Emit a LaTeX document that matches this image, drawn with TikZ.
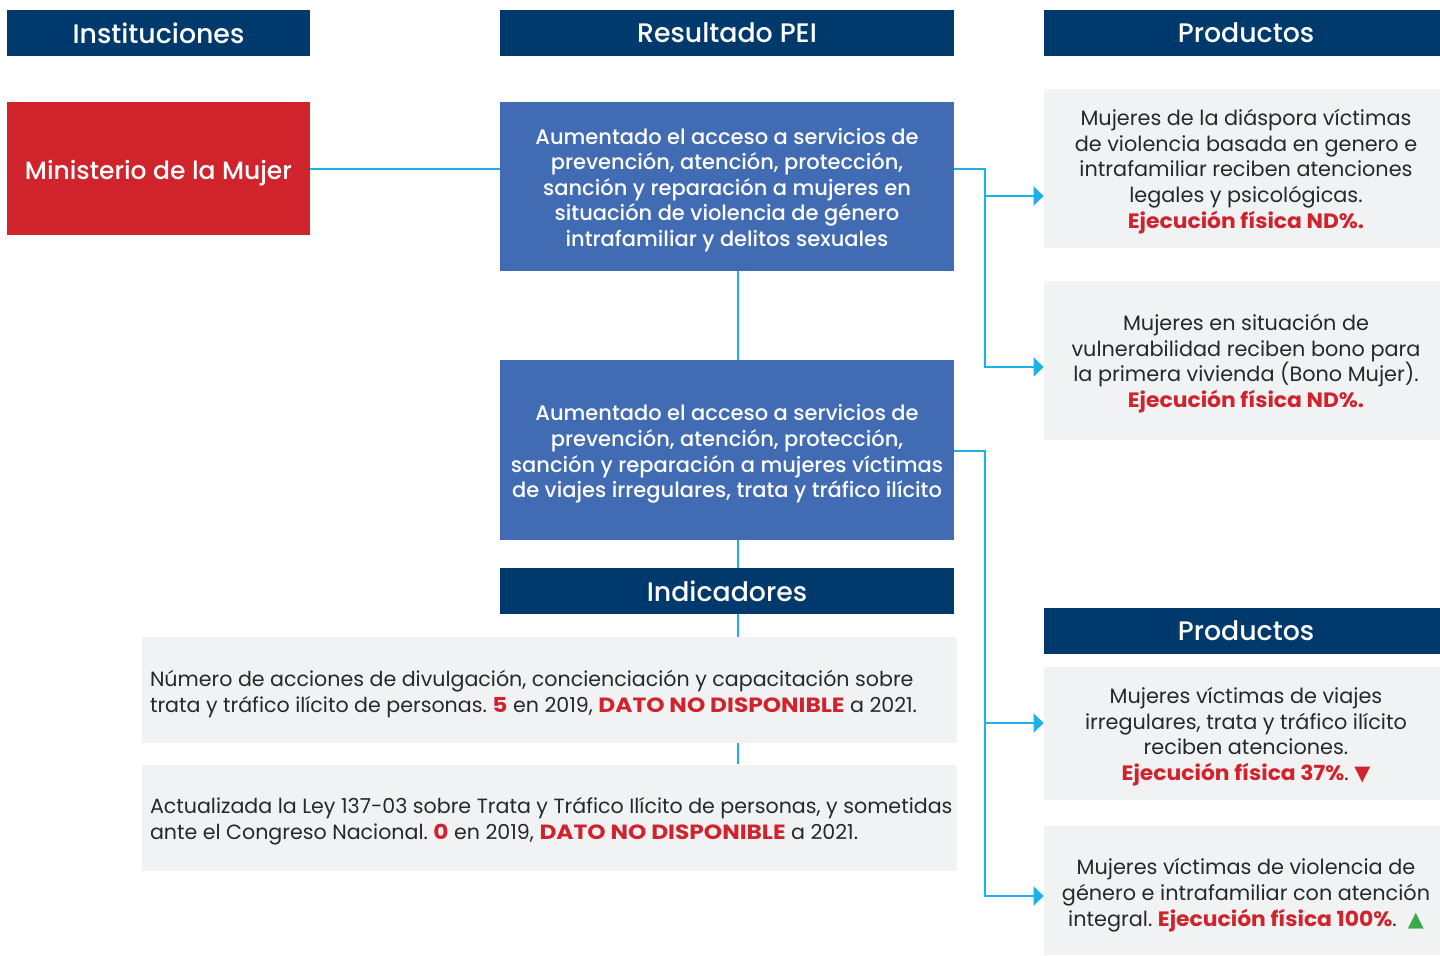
\documentclass[tikz,border=0pt]{standalone}
\usepackage{fontspec}
\setmainfont{Poppins}
\newfontfamily\medfont{Poppins Medium}
\newfontfamily\symfont{DejaVu Sans}
\usetikzlibrary{arrows.meta,calc}
\definecolor{navy}{RGB}{0,58,108}
\definecolor{mred}{RGB}{208,35,43}
\definecolor{mblue}{RGB}{65,108,180}
\definecolor{lgray}{RGB}{241,242,244}
\definecolor{cyanl}{RGB}{27,177,234}
\definecolor{tgray}{RGB}{40,40,40}
\definecolor{mgreen}{RGB}{59,170,74}
\newcommand{\emr}[1]{\textcolor{mred}{\bfseries\addfontfeature{FakeStretch=1.05}#1}}
\newcommand{\emi}[1]{\textcolor{mred}{\bfseries\addfontfeature{FakeStretch=1.13}#1}}
\frenchspacing
\begin{document}
\begin{tikzpicture}[x=0.5pt,y=-0.5pt,
  hdr/.style={fill=navy, text=white, font=\medfont\fontsize{13.4}{15}\selectfont, inner sep=0pt, minimum height=23pt},
  htext/.style={text=white, font=\medfont\fontsize{13.4}{15}\selectfont, inner sep=0pt},
  bluebox/.style={fill=mblue, inner sep=0pt, minimum width=227pt},
  btext/.style={text=white, font=\medfont\fontsize{10.5}{12.8}\selectfont, inner sep=0pt, align=center},
  prodbox/.style={fill=lgray, inner sep=0pt, minimum width=198pt},
  ptext/.style={text=tgray, font=\fontsize{10.4}{12.85}\selectfont, inner sep=0pt, align=center},
  indbox/.style={fill=lgray, inner sep=0pt, minimum width=407.5pt, minimum height=53pt},
  itext/.style={text=tgray, font=\fontsize{10.3}{13}\selectfont, inner sep=0pt, anchor=west, align=left},
  conn/.style={draw=cyanl, line width=1pt},
  arr/.style={conn, -{Triangle[length=5pt,width=9.5pt]}}]
\useasboundingbox (0,0) rectangle (1440,955);
% headers
\node[hdr, minimum width=151.5pt] (h1) at (158.5,33) {Instituciones};
\node[hdr, minimum width=227pt] (h2) at (727,33) {Resultado PEI};
\node[fill=navy, inner sep=0pt, minimum height=23pt, minimum width=198pt] (h3) at (1242,33) {};
\node[htext] at ($(h3.center)+(4,0)$) {Productos};
% ministerio
\node[fill=mred, inner sep=0pt, minimum width=151.5pt, minimum height=66.5pt] (min) at (158.5,168.5) {};
\node[text=white, font=\medfont\fontsize{12.5}{15}\selectfont, inner sep=0pt] at ($(min.center)+(0,4.5)$) {Ministerio de la Mujer};
% resultados
\node[bluebox, minimum height=84.5pt] (b1) at (727,186.5) {};
\node[btext] at ($(b1.center)+(0,3.5)$) {Aumentado el acceso a servicios de\\prevención, atención, protección,\\sanción y reparación a mujeres en\\situación de violencia de género\\intrafamiliar y delitos sexuales};
\node[bluebox, minimum height=90pt] (b2) at (727,450) {};
\node[btext] at ($(b2.center)+(0,4)$) {Aumentado el acceso a servicios de\\prevención, atención, protección,\\sanción y reparación a mujeres víctimas\\de viajes irregulares, trata y tráfico ilícito};
\node[hdr, minimum width=227pt] (h5) at (727,591) {Indicadores};
% indicadores
\node[indbox] (i1) at (549.5,690) {};
\node[itext] at ($(i1.west)+(8,4)$) {Número de acciones de divulgación, concienciación y capacitación sobre\\trata y tráfico ilícito de personas. \emi{5} en 2019, \emi{DATO NO DISPONIBLE} a 2021.};
\node[indbox] (i2) at (549.5,817.5) {};
\node[itext] at ($(i2.west)+(8,4)$) {Actualizada la Ley 137-03 sobre Trata y Tráfico Ilícito de personas, y sometidas\\ante el Congreso Nacional. \emi{0} en 2019, \emi{DATO NO DISPONIBLE} a 2021.};
% productos
\node[prodbox, minimum height=79.5pt] (p1) at (1242,168.5) {};
\node[ptext] at ($(p1.center)+(4,3)$) {Mujeres de la diáspora víctimas\\de violencia basada en genero e\\intrafamiliar reciben atenciones\\legales y psicológicas.\\\emr{Ejecución física ND\%.}};
\node[prodbox, minimum height=79.5pt] (p2) at (1242,360.5) {};
\node[ptext] at ($(p2.center)+(4,3)$) {Mujeres en situación de\\vulnerabilidad reciben bono para\\la primera vivienda (Bono Mujer).\\\emr{Ejecución física ND\%.}};
\node[fill=navy, inner sep=0pt, minimum height=23pt, minimum width=198pt] (h4) at (1242,631) {};
\node[htext] at ($(h4.center)+(4,0)$) {Productos};
\node[prodbox, minimum height=66.5pt] (p3) at (1242,733.5) {};
\node[ptext] at ($(p3.center)+(4,3)$) {Mujeres víctimas de viajes\\irregulares, trata y tráfico ilícito\\reciben atenciones.\\\emr{Ejecución física 37\%}. {\symfont\textcolor{mred}{▼}}};
\node[prodbox, minimum height=64.5pt] (p4) at (1242,890.5) {};
\node[ptext] at ($(p4.center)+(4,4.5)$) {Mujeres víctimas de violencia de\\género e intrafamiliar con atención\\integral. \emr{Ejecución física 100\%}.\ \ {\symfont\textcolor{mgreen}{▲}}};
% connectors
\draw[conn] (min.east) -- (min.east -| b1.west);
\draw[conn] ($(b1.south)+(11,0)$) -- ($(b2.north)+(11,0)$);
\draw[conn] ($(b2.south)+(11,0)$) -- ($(h5.north)+(11,0)$);
\draw[conn] ($(h5.south)+(11,0)$) -- ($(i1.north)+(188.5,0)$);
\draw[conn] ($(i1.south)+(188.5,0)$) -- ($(i2.north)+(188.5,0)$);
\coordinate (a1) at ($(p1.west)+(0,27.5)$);
\coordinate (a2) at ($(p2.west)+(0,6.5)$);
\coordinate (a3) at ($(p3.west)+(0,-10.5)$);
\coordinate (a4) at ($(p4.west)+(0,5.5)$);
\draw[arr] ($(b1.east)+(0,-17.5)$) -- ++(31,0) coordinate (j1) |- (a2);
\draw[arr] (j1 |- a1) -- (a1);
\draw[arr] ($(b2.east)+(0,1)$) -- ++(31,0) coordinate (j2) |- (a4);
\draw[arr] (j2 |- a3) -- (a3);
\end{tikzpicture}
\end{document}
